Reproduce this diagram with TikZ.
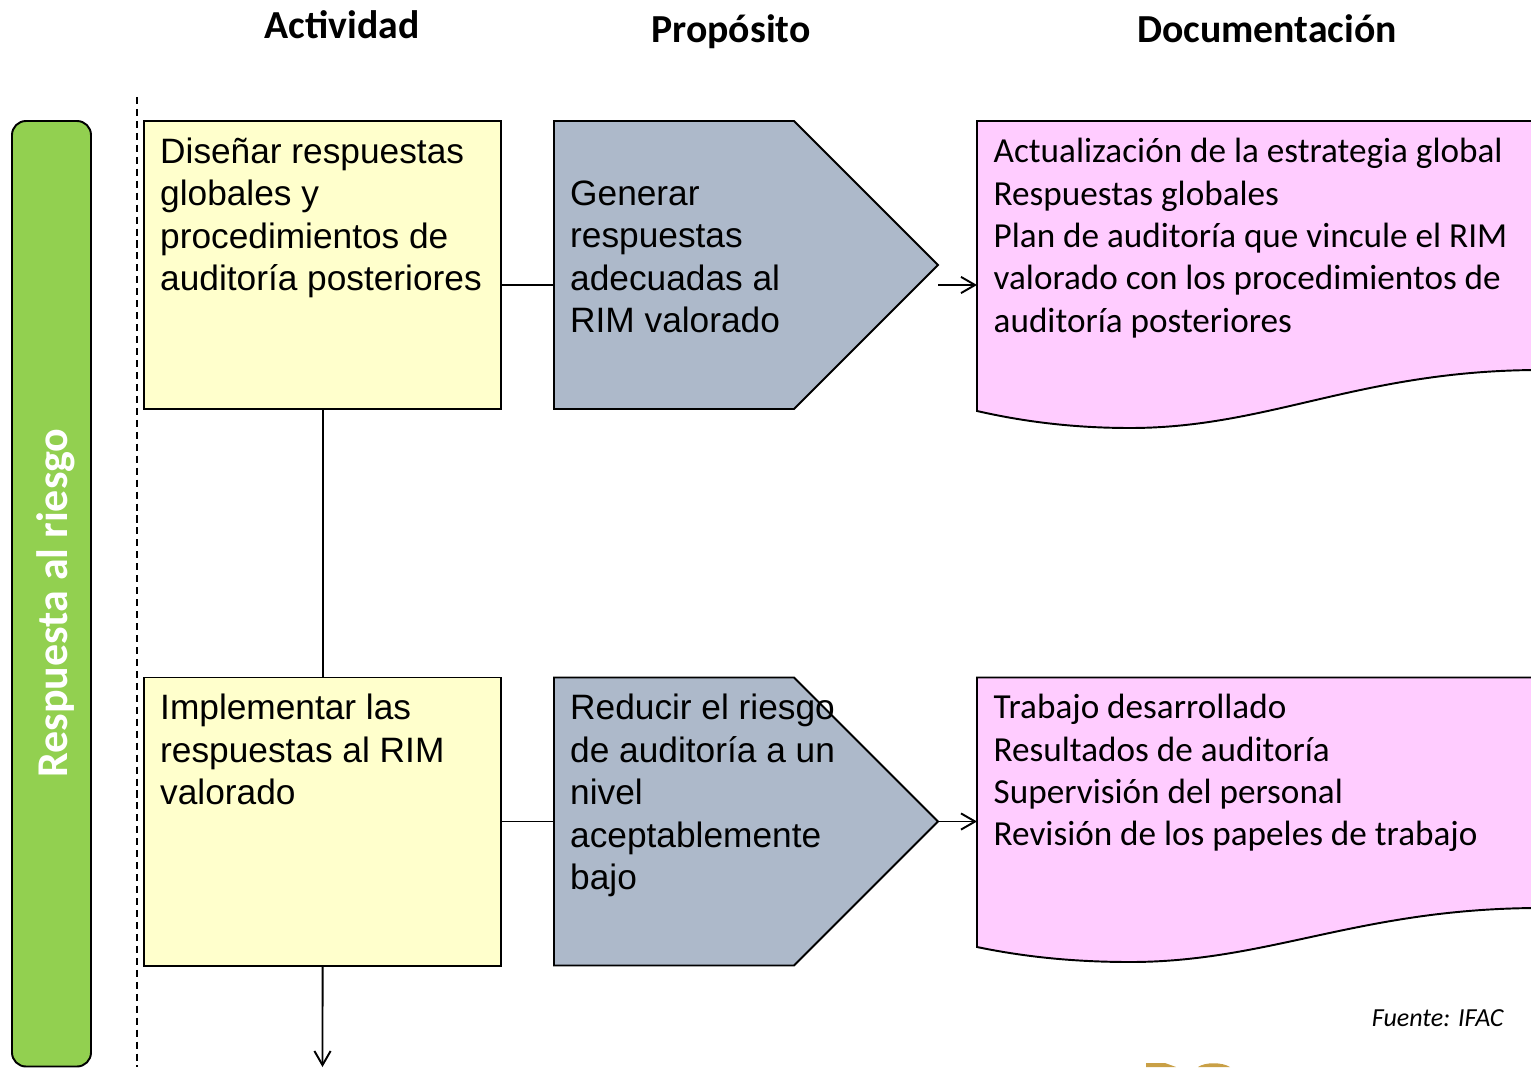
\documentclass[tikz,border=0pt]{standalone}
\usepackage{fontspec}
\setmainfont{Liberation Sans}
\newfontfamily\docfont{Carlito}
\usetikzlibrary{arrows.meta}
\definecolor{actfill}{RGB}{255,255,204}
\definecolor{purfill}{RGB}{173,185,202}
\definecolor{docfill}{RGB}{255,204,255}
\definecolor{phasefill}{RGB}{146,208,80}
\definecolor{logogold}{RGB}{201,160,70}
\tikzset{
	thinline/.style={line width=0.55pt},
	actbox/.style={draw,thinline,fill=actfill,minimum width=3.57cm,minimum height=2.88cm,inner sep=0pt,outer sep=0pt},
	purbox/.style={draw,thinline,fill=purfill,line join=miter},
	docbox/.style={draw,thinline,fill=docfill},
	bodytext/.style={anchor=north west,inner sep=0pt,align=left,font=\fontsize{10.03}{12.06}\selectfont},
	doctext/.style={anchor=north west,inner sep=0pt,align=left,font=\docfont\fontsize{10}{12.06}\selectfont},
	headtext/.style={anchor=base,inner sep=0pt,font=\docfont\bfseries\fontsize{11.3}{13}\selectfont},
	link/.style={thinline,-{Straight Barb[length=4pt,width=4.6pt]}},
}
\begin{document}
\begin{tikzpicture}[x=0.01cm,y=-0.01cm]
			\useasboundingbox (0,0) rectangle (1531,1067);
			\node[headtext] (headact) at (342,38.5) {Actividad};
			\node[headtext] (headpur) at (731,42.5) {Propósito};
			\node[headtext] (headdoc) at (1267,42.5) {Documentación};
			\draw[thinline,dash pattern=on 2pt off 1.4pt] (137,97)--(137,1067);
			\draw[thinline,fill=phasefill,rounded corners=0.14cm] (12,121) rectangle (91,1066.5);
			\node[rotate=90,text=white,font=\docfont\bfseries\fontsize{12.5}{14}\selectfont] (phase) at (55.5,603) {Respuesta al riesgo};
			\node[actbox,anchor=north west] (act1) at (144,121) {};
			\node[actbox,anchor=north west] (act2) at (144,677.5) {};
			\draw[purbox] (554,121)--(794,121)--(938,265)--(794,409)--(554,409)--cycle;
			\draw[purbox] (554,677.5)--(794,677.5)--(938,821.5)--(794,965.5)--(554,965.5)--cycle;
			\draw[docbox] (977,121)--(1541,121)--(1541,370) .. controls (1360,370) and (1270,428) .. (1130,428) .. controls (1075,428) and (1025,422) .. (977,411)--cycle;
			\draw[docbox] (977,677.5)--(1541,677.5)--(1541,908) .. controls (1360,908) and (1270,962) .. (1130,962) .. controls (1075,962) and (1025,957) .. (977,947)--cycle;
			\node[bodytext] (acttext1) at (159.5,137) {Diseñar respuestas\\globales y\\procedimientos de\\auditoría posteriores};
			\node[bodytext] (acttext2) at (159.5,693.5) {Implementar las\\respuestas al RIM\\valorado};
			\node[bodytext] (purtext1) at (569.5,180) {Generar\\respuestas\\adecuadas al\\RIM valorado};
			\node[bodytext] (purtext2) at (569.5,693.5) {Reducir el riesgo\\de auditoría a un\\nivel\\aceptablemente\\bajo};
			\node[doctext] (doctext1) at (993,137.5) {Actualización de la estrategia global\\Respuestas globales\\Plan de auditoría que vincule el RIM\\valorado con los procedimientos de\\auditoría posteriores};
			\node[doctext] (doctext2) at (993,693.5) {Trabajo desarrollado\\Resultados de auditoría\\Supervisión del personal\\Revisión de los papeles de trabajo};
			\node[anchor=east,inner sep=0pt,font=\docfont\itshape\fontsize{7.4}{9}\selectfont] (source) at (1504,1018) {Fuente: IFAC};
			\fill[logogold] (1146,1067)--(1146,1063)--(1165,1063)--(1176,1067)--cycle;
			\fill[logogold] (1198,1067) .. controls (1205,1062) and (1222,1062) .. (1230,1067)--cycle;
			\coordinate (pur1in) at (554,285);
			\coordinate (pur2in) at (554,821.5);
			\coordinate (pur1out) at (938,285);
			\coordinate (pur2out) at (938,821.5);
			\coordinate (doc1in) at (977,285);
			\coordinate (doc2in) at (977,821.5);
			\coordinate (act1out) at (501,285);
			\coordinate (act2out) at (501,821.5);
			\coordinate (nextact) at (322.5,1067);
			\draw[thinline] (act1)--(act2);
			\draw[thinline] (act1out)--(pur1in);
			\draw[thinline] (act2out)--(pur2in);
			\draw[link] (pur1out)--(doc1in);
			\draw[link] (pur2out)--(doc2in);
			\draw[link] (act2)--(nextact);
		\end{tikzpicture}
\end{document}
